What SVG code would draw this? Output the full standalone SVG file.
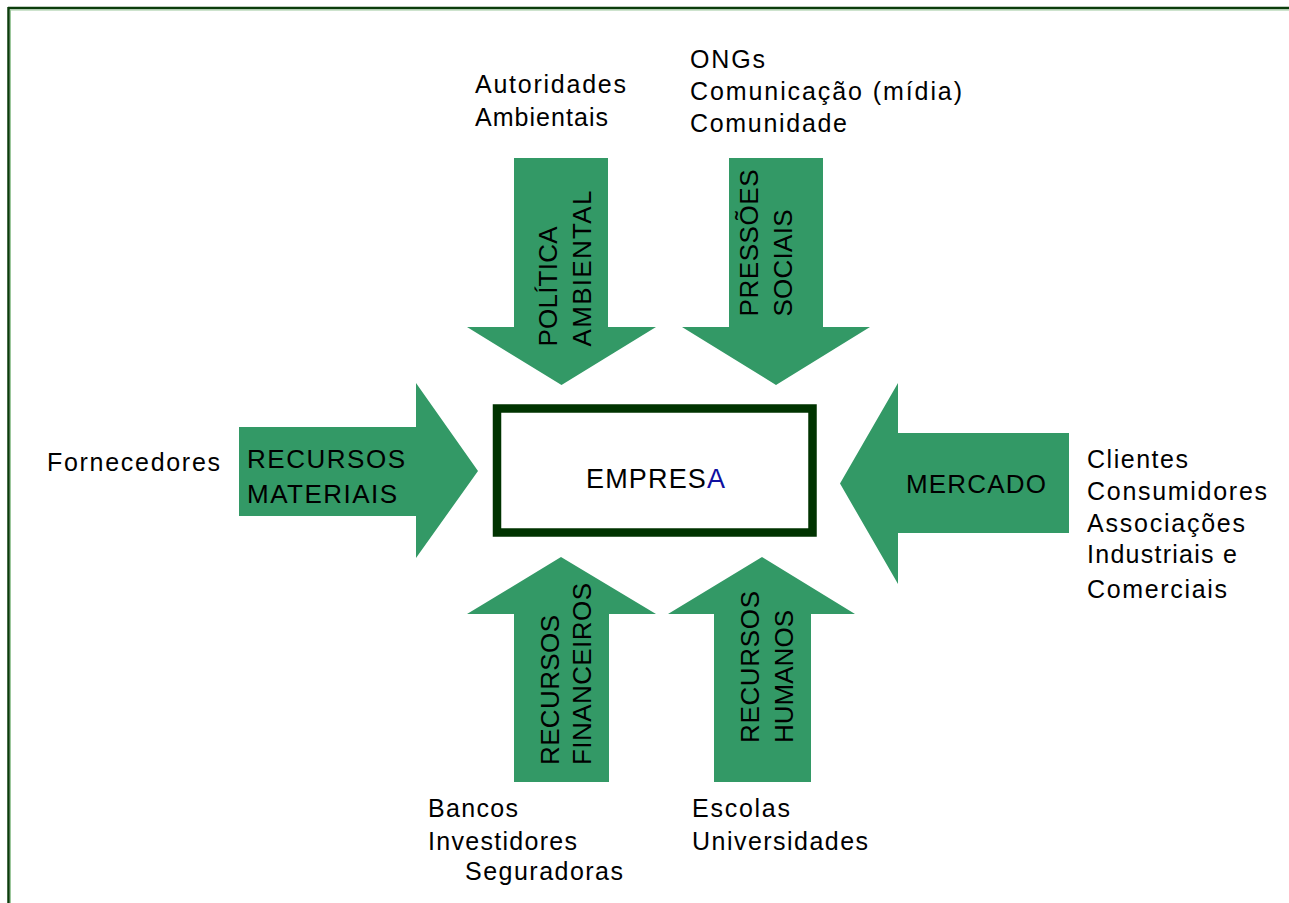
<svg xmlns="http://www.w3.org/2000/svg" width="1289" height="903" viewBox="0 0 1289 903">
<style>
text{font-family:"Liberation Sans",Arial,sans-serif;fill:#000;}
.lbl{font-size:25px;}
.al{font-size:26px;}
.arrow{fill:#339966;}
</style>
<rect x="0" y="0" width="1289" height="903" fill="#ffffff"/>
<g id="frame">
<line x1="8" y1="8" x2="1289" y2="8" stroke="#0b3d0b" stroke-width="2.5"/>
<line x1="8.5" y1="7" x2="8.5" y2="903" stroke="#0b3d0b" stroke-width="2.5"/>
<line x1="10" y1="10" x2="1289" y2="10" stroke="#9cc79c" stroke-width="1"/>
<line x1="10.5" y1="10" x2="10.5" y2="903" stroke="#9cc79c" stroke-width="1"/>
</g>
<g id="connectors">
<g id="arrow-politica">
<polygon class="arrow" points="514,158 608,158 608,327 656,327 561.5,385 467,327 514,327"/>
<text class="al" transform="translate(556.5,346.5) rotate(-90)" textLength="120" lengthAdjust="spacing">POLÍTICA</text>
<text class="al" transform="translate(590.5,346.5) rotate(-90)" textLength="156" lengthAdjust="spacing">AMBIENTAL</text>
</g>
<g id="arrow-pressoes">
<polygon class="arrow" points="729,158 823,158 823,327 870,327 776,385 682,327 729,327"/>
<text class="al" transform="translate(758,316.5) rotate(-90)" textLength="147" lengthAdjust="spacing">PRESSÕES</text>
<text class="al" transform="translate(791.5,316.5) rotate(-90)" textLength="107" lengthAdjust="spacing">SOCIAIS</text>
</g>
<g id="arrow-materiais">
<polygon class="arrow" points="239,427 416,427 416,383 478,471 416,558 416,516 239,516"/>
<text class="al" x="247" y="468" textLength="158" lengthAdjust="spacing">RECURSOS</text>
<text class="al" x="247" y="503" textLength="150" lengthAdjust="spacing">MATERIAIS</text>
</g>
<g id="arrow-mercado">
<polygon class="arrow" points="840,483.5 898,383 898,433 1069,433 1069,533 898,533 898,584"/>
<text class="al" x="906" y="492.5" textLength="140" lengthAdjust="spacing">MERCADO</text>
</g>
<g id="arrow-financeiros">
<polygon class="arrow" points="561,557 656,614 609,614 609,782 514,782 514,614 467,614"/>
<text class="al" transform="translate(559,765) rotate(-90)" textLength="150" lengthAdjust="spacing">RECURSOS</text>
<text class="al" transform="translate(591,765) rotate(-90)" textLength="182" lengthAdjust="spacing">FINANCEIROS</text>
</g>
<g id="arrow-humanos">
<polygon class="arrow" points="762,557 855,614 811,614 811,782 714,782 714,614 668,614"/>
<text class="al" transform="translate(759,743) rotate(-90)" textLength="152" lengthAdjust="spacing">RECURSOS</text>
<text class="al" transform="translate(793,743) rotate(-90)" textLength="133" lengthAdjust="spacing">HUMANOS</text>
</g>
</g>
<g id="empresa">
<rect x="497" y="408.5" width="315.5" height="124" fill="#ffffff" stroke="#003300" stroke-width="8.5"/>
<text x="586" y="488" style="font-size:27px" textLength="139" lengthAdjust="spacing">EMPRES<tspan fill="#1010a0">A</tspan></text>
</g>
<g id="autoridades">
<text class="lbl" x="475" y="93" textLength="151" lengthAdjust="spacing">Autoridades</text>
<text class="lbl" x="475" y="126" textLength="133" lengthAdjust="spacing">Ambientais</text>
</g>
<g id="ongs">
<text class="lbl" x="690" y="68" textLength="75" lengthAdjust="spacing">ONGs</text>
<text class="lbl" x="690" y="100" textLength="272" lengthAdjust="spacing">Comunicação (mídia)</text>
<text class="lbl" x="690" y="132" textLength="157" lengthAdjust="spacing">Comunidade</text>
</g>
<g id="fornecedores">
<text class="lbl" x="47" y="471" textLength="173" lengthAdjust="spacing">Fornecedores</text>
</g>
<g id="clientes">
<text class="lbl" x="1087" y="468" textLength="101" lengthAdjust="spacing">Clientes</text>
<text class="lbl" x="1087" y="500" textLength="180" lengthAdjust="spacing">Consumidores</text>
<text class="lbl" x="1087" y="531.5" textLength="158" lengthAdjust="spacing">Associações</text>
<text class="lbl" x="1087" y="563" textLength="150" lengthAdjust="spacing">Industriais e</text>
<text class="lbl" x="1087" y="598" textLength="140" lengthAdjust="spacing">Comerciais</text>
</g>
<g id="bancos">
<text class="lbl" x="428" y="816.5" textLength="90" lengthAdjust="spacing">Bancos</text>
<text class="lbl" x="428" y="849.5" textLength="149" lengthAdjust="spacing">Investidores</text>
<text class="lbl" x="465" y="880" textLength="158" lengthAdjust="spacing">Seguradoras</text>
</g>
<g id="escolas">
<text class="lbl" x="692" y="816.5" textLength="98" lengthAdjust="spacing">Escolas</text>
<text class="lbl" x="692" y="849.5" textLength="176" lengthAdjust="spacing">Universidades</text>
</g>
</svg>
